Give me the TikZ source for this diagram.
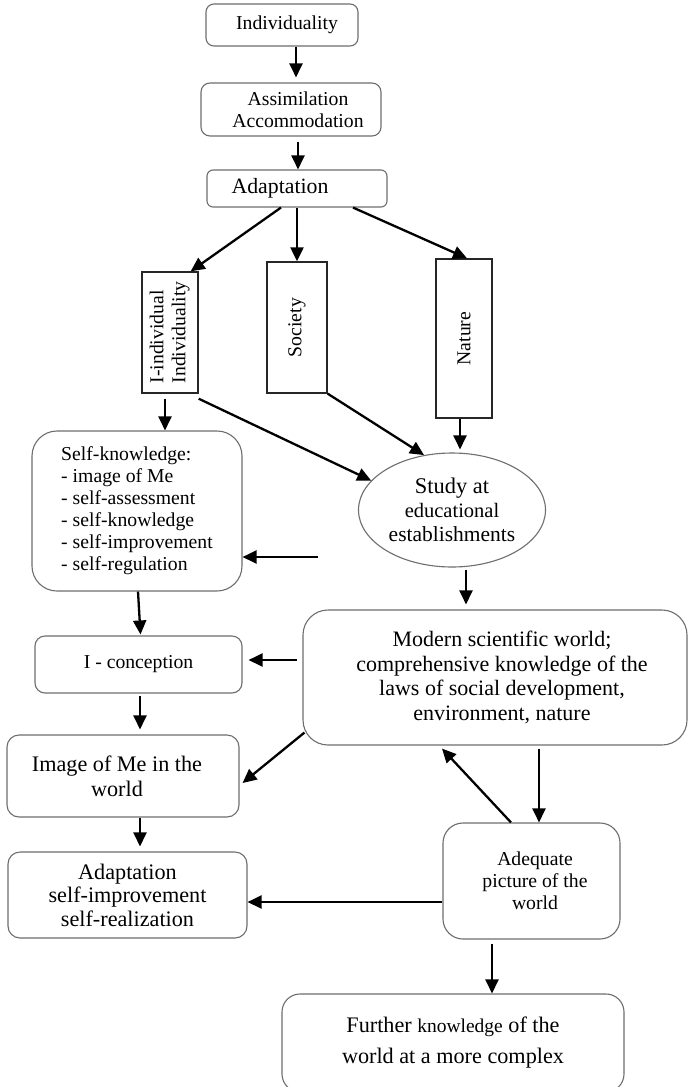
\documentclass[tikz,border=0pt]{standalone}
\usepackage{fontspec}
\usepackage{graphicx}
\setmainfont{Liberation Serif}
\usetikzlibrary{arrows.meta,shapes.geometric}

\definecolor{edgegray}{HTML}{6E6E6E}

\newcommand{\fsA}{\fontsize{19.7}{22}\selectfont}
\newcommand{\fsB}{\fontsize{22}{24.5}\selectfont}

\begin{document}
\begin{tikzpicture}[x=1pt,y=-1pt,
  rbox/.style={draw=edgegray, line width=1.1pt, rounded corners=#1, inner sep=0pt, align=center, font=\fsA},
  rbox/.default=10pt,
  sbox/.style={draw=black!85, line width=1.4pt, inner sep=0pt, font=\fsA},
  arr/.style={line width=2.3pt, -{Triangle[length=14pt,width=13pt]}},
]
\useasboundingbox (0,0) rectangle (688,1087);
\clip (0,0) rectangle (688,1087);
\fill[white] (0,0) rectangle (688,1087);

% top chain
\node[rbox=8pt, minimum width=152pt, minimum height=42pt] (ind) at (282,25) {\hspace*{10pt}Individuality};
\node[rbox=9pt, minimum width=180pt, minimum height=53pt] (assim) at (291,109.5)
  {\hspace*{14pt}Assimilation\\\hspace*{14pt}Accommodation};
\node[rbox=6pt, minimum width=180pt, minimum height=37pt, font=\fontsize{21.8}{24}\selectfont] (adapt) at (297,188.5)
  {Adaptation\hspace*{34pt}};

% three upright boxes
\node[sbox, minimum width=56pt, minimum height=121pt] (iind) at (170,332.5)
  {\rotatebox{90}{\begin{tabular}{@{}l@{}}I-individual\\Individuality\end{tabular}}};
\node[sbox, minimum width=60pt, minimum height=131pt] (soc) at (297,327.5) {\rotatebox{90}{Society}};
\node[sbox, minimum width=56pt, minimum height=159pt] (nat) at (464,338.5) {\rotatebox{90}{Nature}};

% middle
\node[rbox=25pt, minimum width=210pt, minimum height=160pt, align=left] (selfk) at (137,511)
  {Self-knowledge:\\- image of Me\\- self-assessment\\- self-knowledge\\- self-improvement\\- self-regulation};
\node[ellipse, draw=edgegray, line width=1.1pt, minimum width=187pt, minimum height=114pt, inner sep=0pt,
      align=center, font=\fontsize{20.5}{24}\selectfont] (study) at (452,510)
  {{\fontsize{22.4}{24}\selectfont Study at}\\educational\\{\fontsize{21.5}{24}\selectfont establishments}};
\coordinate (skin) at (318,557);

\node[rbox=25pt, minimum width=384pt, minimum height=135pt, font=\fsB] (modern) at (495,677.5)
  {\hspace*{14pt}Modern scientific world;\\\hspace*{14pt}comprehensive knowledge of the\\
   \hspace*{14pt}laws of social development,\\\hspace*{14pt}environment, nature};

% left column
\node[rbox=10pt, minimum width=207pt, minimum height=57pt] (icon) at (138.5,664.5) {I - conception};
\node[rbox=12pt, minimum width=232pt, minimum height=82pt, font=\fontsize{22.2}{25}\selectfont] (image) at (123,776)
  {Image of Me in the\hspace*{12pt}\\world\hspace*{12pt}};
\node[rbox=12pt, minimum width=239pt, minimum height=86pt, font=\fontsize{22.2}{23.5}\selectfont] (adapt2) at (127.5,895)
  {Adaptation\\self-improvement\\self-realization};

% lower right
\node[rbox=20pt, minimum width=177pt, minimum height=116pt] (adeq) at (531.5,881)
  {\hspace*{7pt}Adequate\\\hspace*{7pt}picture of the\\\hspace*{7pt}world};
\node[rbox=18pt, minimum width=342pt, minimum height=98pt, font=\fontsize{22.2}{31}\selectfont] (further) at (453,1043)
  {Further {\fontsize{19.5}{31}\selectfont knowledge} of the\\world at a more complex};

% connectors
\draw[arr] ([xshift=14pt]ind.south) -- ([xshift=5pt,yshift=5pt]assim.north);
\draw[arr] ([xshift=7pt,yshift=-5pt]assim.south) -- ([xshift=1pt]adapt.north);
\draw[arr] ([xshift=-16pt]adapt.south) -- ([xshift=-8pt]iind.north east);
\draw[arr] (adapt.south -| soc.north) -- (soc.north);
\draw[arr] ([xshift=56pt]adapt.south) -- ([xshift=3pt]nat.north);
\draw[arr] ([xshift=-5pt,yshift=-5pt]iind.south) -- ([xshift=28pt]selfk.north);
\draw[arr] ([yshift=-5pt]iind.south east) -- (study.160);
\draw[arr] (soc.south east) -- (study.117);
\draw[arr] ([xshift=-4pt]nat.south) -- ([xshift=8pt,yshift=3pt]study.north);
\draw[arr] ([xshift=14pt,yshift=-2pt]study.south) -- ([xshift=-29pt,yshift=5pt]modern.north);
\draw[arr] (skin) -- ([yshift=-46pt]selfk.east);
\draw[arr] ([xshift=1pt]selfk.south) -- ([xshift=2pt,yshift=1pt]icon.north);
\draw[arr] ([xshift=-5pt,yshift=17.5pt]modern.west) -- ([xshift=6pt,yshift=4.5pt]icon.east);
\draw[arr] ([xshift=1.5pt,yshift=-2pt]icon.south) -- ([xshift=17pt,yshift=5pt]image.north);
\draw[arr] ([xshift=2pt,yshift=13pt]modern.south west) -- ([xshift=3pt,yshift=-7pt]image.east);
\draw[arr] ([xshift=17pt]image.south) -- ([xshift=12.5pt,yshift=5pt]adapt2.north);
\draw[arr] ([xshift=44pt,yshift=-3pt]modern.south) -- ([xshift=7.5pt]adeq.north);
\draw[arr] ([xshift=-20.5pt]adeq.north) -- ([xshift=-53pt,yshift=-3pt]modern.south);
\draw[arr] ([yshift=-21pt]adeq.west) -- ([yshift=-7pt]adapt2.east);
\draw[arr] ([xshift=-39.5pt,yshift=-4pt]adeq.south) -- ([xshift=39pt]further.north);
\end{tikzpicture}
\end{document}
